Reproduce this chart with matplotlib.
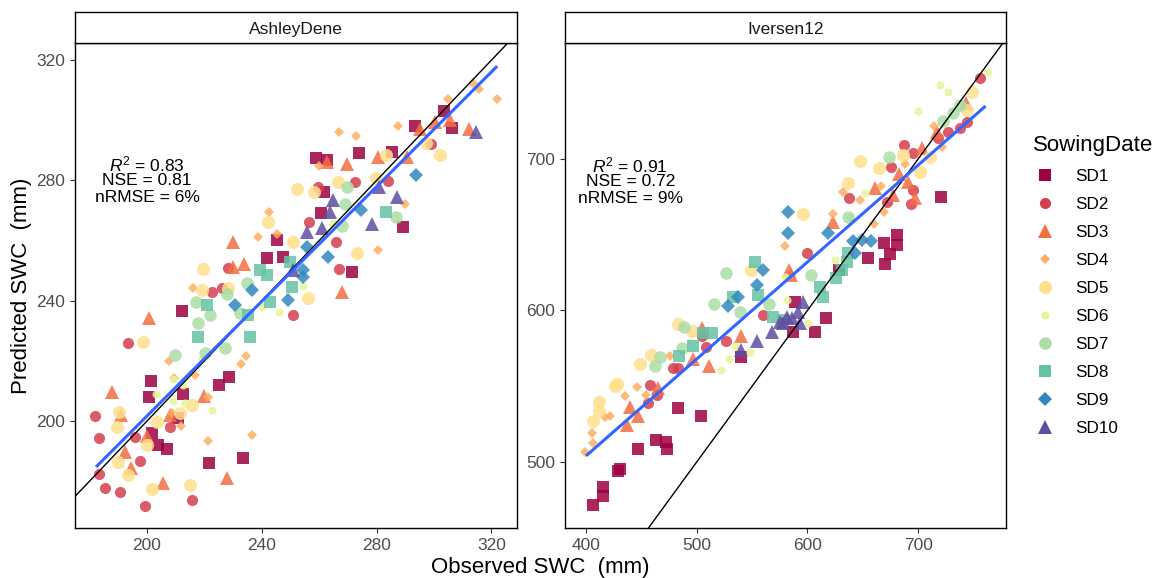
import matplotlib
matplotlib.use('Agg')
import matplotlib.pyplot as plt
from matplotlib.lines import Line2D
import numpy as np

plt.rcParams['font.family'] = ['Liberation Sans', 'DejaVu Sans']
plt.rcParams['mathtext.fontset'] = 'custom'
plt.rcParams['mathtext.rm'] = 'Liberation Sans'
plt.rcParams['mathtext.it'] = 'Liberation Sans:italic'

# ---- data (observed, predicted) ----
sowing_dates = ['SD1', 'SD2', 'SD3', 'SD4', 'SD5', 'SD6', 'SD7', 'SD8', 'SD9', 'SD10']

# AshleyDene
ad_sd1 = [(212.1,236.7),(201.4,213.3),(200.8,207.9),(212.7,209.0),(225.2,212.0),(228.7,214.5),(201.6,195.9),
          (203.9,192.0),(206.9,190.6),(221.7,186.1),(233.3,187.8),(210.9,200.9),(245.4,260.2),(241.7,254.1),
          (247.5,254.6),(303.6,303.2),(306.2,297.3),(293.4,298.1),(274.0,289.0),(258.7,287.4),(262.6,286.8),
          (285.3,289.5),(261.7,276.0),(260.6,269.3),(289.3,264.6),(271.5,249.4)]
ad_sd2 = [(222.5,243.0),(226.0,244.1),(251.0,235.2),(193.3,226.0),(181.9,201.6),(183.3,194.4),(195.8,194.8),
          (197.6,186.7),(183.4,182.3),(185.4,177.6),(190.6,176.5),(199.3,171.7),(215.6,173.7),(208.0,198.1),
          (228.3,251.0),(272.5,279.6),(283.8,279.9),(259.7,277.9),(256.6,266.3),(265.7,259.6),(266.9,250.4),
          (299.0,292.1)]
ad_sd3 = [(200.7,234.1),(187.9,209.5),(190.9,202.0),(192.3,189.8),(194.4,184.3),(205.7,179.5),(227.8,181.1),
          (220.0,208.3),(208.0,202.0),(199.9,195.0),(229.9,259.6),(229.9,251.3),(233.8,252.1),(305.6,300.1),
          (300.4,299.5),(312.2,297.0),(295.1,297.0),(262.6,286.2),(269.6,285.3),(280.3,287.9),(290.5,287.9),
          (268.0,243.0)]
ad_sd4 = [(207.8,220.1),(216.1,244.1),(234.5,221.7),(232.6,218.8),(209.5,214.2),(216.7,215.3),(221.1,208.1),
          (211.7,198.3),(221.1,193.3),(236.5,195.3),(208.6,202.8),(242.5,269.4),(238.6,261.3),(245.4,262.1),
          (313.7,312.3),(315.5,310.3),(322.1,307.0),(304.8,307.1),(267.0,296.2),(272.7,294.9),(287.6,298.1),
          (260.0,284.8),(289.9,272.1),(280.3,256.8)]
ad_sd5 = [(219.0,243.6),(228.3,244.1),(198.7,226.4),(190.4,203.1),(189.4,198.1),(203.4,199.8),(200.1,192.0),
          (190.0,186.5),(193.5,182.0),(201.6,177.3),(215.0,178.7),(211.5,202.8),(215.6,205.3),(252.1,277.3),
          (242.3,266.3),(251.0,259.4),(219.6,250.4),(283.2,288.4),(297.2,292.3),(301.9,288.4),(258.0,276.2),
          (266.7,279.6),(279.8,280.7),(273.1,255.7),(256.2,240.8)]
ad_sd6 = [(203.1,208.9),(208.9,213.9),(222.8,203.6),(212.7,212.0),(219.0,220.6),(239.9,238.0),(246.0,236.1),
          (209.2,206.7),(213.2,206.1),(254.5,244.9),(264.9,265.7)]
ad_sd7 = [(217.1,239.7),(227.8,242.2),(222.0,235.2),(217.9,232.7),(209.8,221.9),(220.2,222.7),(227.2,224.2),
          (234.7,245.8),(232.4,235.8),(269.6,277.9),(269.0,272.3),(267.8,264.8),(286.8,267.9)]
ad_sd8 = [(250.4,244.7),(220.8,238.6),(242.9,239.7),(235.3,235.2),(217.9,228.0),(235.9,227.8),(249.8,253.0),
          (239.4,250.2),(241.7,248.5),(283.2,269.4)]
ad_sd9 = [(236.5,243.6),(230.7,238.6),(249.2,240.2),(293.7,281.8),(274.6,270.1),(255.6,257.9),(262.9,254.4),
          (254.5,250.2),(254.5,248.0)]
ad_sd10 = [(251.0,250.2),(314.6,296.2),(264.7,273.5),(263.8,269.6),(280.9,277.9),(287.2,274.6),(278.3,265.5),
           (255.6,262.9),(260.9,264.1)]

# Iversen12
iv_sd1 = [(540.0,569.1),(482.8,535.4),(503.9,530.4),(463.2,514.5),(472.3,513.4),(472.9,508.4),(447.3,508.6),
          (430.7,495.1),(429.2,494.1),(415.1,483.7),(415.7,477.6),(406.6,471.6),(720.4,675.1),(669.2,644.3),
          (681.2,649.8),(681.2,643.2),(674.6,637.1),(670.1,630.7),(655.1,634.4),(628.8,626.7),(588.8,605.8),
          (616.8,595.3),(606.9,585.6),(587.3,586.0)]
iv_sd2 = [(559.6,597.0),(526.5,580.1),(508.4,576.1),(504.5,583.2),(478.9,561.8),(483.4,561.8),(457.8,550.8),
          (463.8,544.2),(456.3,538.7),(755.9,753.7),(687.6,709.2),(695.7,704.2),(675.5,694.9),(637.9,674.1),
          (695.7,679.5),(693.6,670.3),(599.3,637.7),(671.6,671.4),(727.3,718.1),(737.9,720.2),(743.9,724.6),
          (718.3,713.6)]
iv_sd3 = [(504.5,588.7),(540.0,583.2),(511.4,563.4),(497.0,568.0),(465.3,548.6),(439.7,536.5),(447.3,530.4),
          (437.0,524.4),(583.7,626.7),(743.3,737.2),(716.8,718.1),(703.2,707.0),(683.1,690.1),(661.1,680.6),
          (691.2,685.0),(697.2,674.1),(623.4,658.6),(677.6,676.2),(585.2,623.4)]
iv_sd4 = [(579.8,642.6),(445.8,549.3),(435.2,543.8),(421.7,530.4),(417.2,529.9),(405.1,518.9),(406.0,512.3),
          (399.1,506.8),(475.9,570.0),(454.2,544.2),(714.4,721.8),(688.2,696.7),(632.5,678.4),(666.5,682.2),
          (647.5,673.0),(623.4,663.7),(660.5,656.9),(669.5,665.2),(721.3,708.1)]
iv_sd5 = [(549.1,626.7),(483.4,591.1),(495.5,586.7),(448.8,564.5),(458.4,570.6),(428.3,551.5),(426.2,550.2),
          (412.0,539.8),(412.0,533.7),(406.6,527.3),(748.4,744.0),(647.5,698.9),(665.0,693.8),(701.7,691.6),
          (637.0,683.9),(595.7,663.5),(710.8,701.1),(743.9,732.3),(686.7,702.6)]
iv_sd6 = [(579.8,622.3),(521.9,560.7),(534.6,576.8),(529.5,568.0),(548.1,572.8),(581.3,606.9),(762.8,757.2),
          (719.8,748.8),(727.3,744.0),(699.6,731.9),(652.0,677.3),(638.5,660.8),(624.9,633.3),(600.8,592.0)]
iv_sd7 = [(526.2,624.5),(515.9,604.3),(539.1,598.8),(565.6,604.3),(488.5,588.9),(466.8,569.1),(462.3,563.4),
          (486.4,575.0),(722.2,725.3),(731.8,730.6),(674.0,701.1),(637.0,661.9),(603.3,623.4),(737.9,735.6)]
iv_sd8 = [(552.7,632.2),(555.7,610.2),(533.1,609.1),(569.2,595.9),(513.5,585.4),(506.0,584.9),(497.0,576.6),
          (484.3,570.0),(635.5,632.2),(630.9,626.7),(625.8,621.2),(611.4,615.7),(637.0,637.7),(614.4,609.1),
          (578.3,593.7)]
iv_sd9 = [(582.8,665.2),(582.8,651.0),(554.2,616.8),(559.6,626.7),(528.6,603.2),(537.6,608.7),(618.9,651.4),
          (640.9,645.9),(649.0,646.6),(657.1,645.9),(643.0,637.7)]
iv_sd10 = [(540.0,573.9),(554.2,580.1),(567.7,586.0),(575.2,592.6),(581.3,595.9),(596.3,605.8),(591.8,599.2),
           (585.8,594.8),(578.3,591.5),(593.3,591.5)]

# fitted (lm) lines, end points
ad_fit_obs = [182.2, 322.0]
ad_fit_pred = [184.7, 318.0]
iv_fit_obs = [400.0, 761.0]
iv_fit_pred = [504.0, 735.0]

# stats text
ad_stats = ['0.83', '0.81', '6%']
iv_stats = ['0.91', '0.72', '9%']

# ---- styles ----
sd_colors = ['#9E0142', '#D53E4F', '#F46D43', '#FDAE61', '#FEE08B',
             '#E6F598', '#ABDDA4', '#66C2A5', '#3288BD', '#5E4FA2']
sd_markers = ['s', 'o', '^', 'D', 'o', 'o', 'o', 's', 'D', '^']
sd_msize = [8.6, 8.0, 9.6, 4.8, 9.4, 5.8, 9.0, 8.6, 6.8, 10.0]

fig = plt.figure(figsize=(11.61, 5.78), dpi=100)
W, H = 1161, 578


def panel(x0, x1, title, groups, xlim, ylim, xticks, yticks, fit_x, fit_y, stats, stat_xy):
    ax = fig.add_axes([x0 / W, 1 - 528 / H, (x1 - x0) / W, (528 - 43) / H])
    for pts, c, m, ms in zip(groups, sd_colors, sd_markers, sd_msize):
        pts = np.array(pts)
        ax.plot(pts[:, 0], pts[:, 1], linestyle='none', marker=m, markersize=ms,
                color=c, markeredgewidth=0, alpha=0.85, zorder=2)
    # 1:1 line and the regression line
    ax.axline((0, 0), slope=1, color='black', lw=1.0, zorder=3)
    ax.plot(fit_x, fit_y, color='#3366FF', lw=2.2, zorder=4, solid_capstyle='butt')
    ax.set_xlim(xlim)
    ax.set_ylim(ylim)
    ax.set_xticks(xticks)
    ax.set_yticks(yticks)
    ax.tick_params(colors='#333333', labelcolor='#4D4D4D', labelsize=12.5, length=3.5, width=0.8)
    for s in ax.spines.values():
        s.set_color('black')
        s.set_linewidth(1.0)
    # stats annotation
    lines = [r'$R^2$ = ' + stats[0], 'NSE = ' + stats[1], 'nRMSE = ' + stats[2]]
    offs = [11.5, 0, -12]
    for t, o in zip(lines, offs):
        ax.annotate(t, xy=stat_xy, xytext=(0, o), textcoords='offset points',
                    ha='center', va='center', fontsize=12.5, color='black', zorder=5)
    # facet strip
    sax = fig.add_axes([x0 / W, 1 - 43 / H, (x1 - x0) / W, 31 / H])
    sax.set_xticks([])
    sax.set_yticks([])
    for s in sax.spines.values():
        s.set_color('black')
        s.set_linewidth(1.0)
    sax.text(0.5, 0.45, title, ha='center', va='center', fontsize=12.5, color='#1A1A1A',
             transform=sax.transAxes)
    return ax


ad_groups = [ad_sd1, ad_sd2, ad_sd3, ad_sd4, ad_sd5, ad_sd6, ad_sd7, ad_sd8, ad_sd9, ad_sd10]
iv_groups = [iv_sd1, iv_sd2, iv_sd3, iv_sd4, iv_sd5, iv_sd6, iv_sd7, iv_sd8, iv_sd9, iv_sd10]

panel(75, 517, 'AshleyDene', ad_groups, (174.9, 328.9), (164.4, 325.7),
      [200, 240, 280, 320], [200, 240, 280, 320], ad_fit_obs, ad_fit_pred, ad_stats, (200, 280))
panel(565, 1006, 'Iversen12', iv_groups, (381.0, 779.4), (456.4, 776.6),
      [400, 500, 600, 700], [500, 600, 700], iv_fit_obs, iv_fit_pred, iv_stats, (440, 685))

fig.text(540.5 / W, 1 - 567 / H, 'Observed SWC  (mm)', ha='center', va='center', fontsize=16)
fig.text(22 / W, 1 - 285.5 / H, 'Predicted SWC  (mm)', ha='center', va='center',
         rotation=90, fontsize=16)

handles = [Line2D([], [], linestyle='none', marker=m, markersize=ms, color=c, markeredgewidth=0)
           for c, m, ms in zip(sd_colors, sd_markers, sd_msize)]
fig.legend(handles, sowing_dates, title='SowingDate', loc='upper left',
           bbox_to_anchor=(1021 / W, 1 - 123 / H), frameon=False, fontsize=12.3,
           title_fontsize=16, alignment='left', labelspacing=0.76, handlelength=1.4,
           handletextpad=1.1, borderpad=0.2)

fig.savefig('out.png', dpi=100)
